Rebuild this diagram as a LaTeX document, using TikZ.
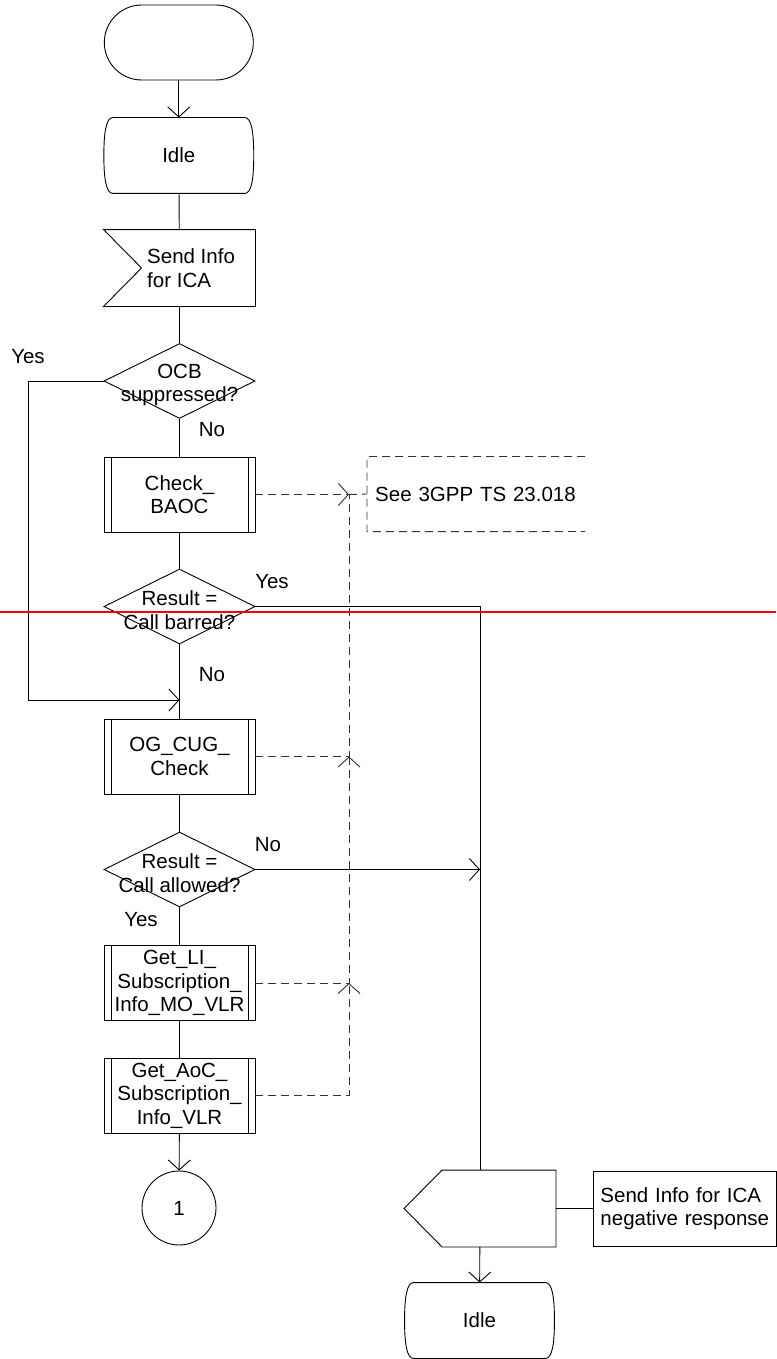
\documentclass[tikz,border=0pt]{standalone}
\usepackage{fontspec}
\setmainfont{Liberation Sans}
\usepackage{tikz}
\usetikzlibrary{arrows.meta}
\usetikzlibrary{shapes.geometric}
\usetikzlibrary{shapes.misc}

\tikzset{
	base/.style={draw, line width=0.9pt, font=\fontsize{20.5}{23.5}\selectfont, align=center, inner sep=0pt},
	terminal/.style={base, rounded rectangle, minimum width=149pt, minimum height=75pt},
	statebox/.style={base, draw=none, minimum width=149pt, minimum height=75pt},
	sigbox/.style={base, draw=none, minimum width=151pt, minimum height=76pt},
	decision/.style={base, diamond, aspect=2, minimum width=151pt, minimum height=75pt},
	procbox/.style={base, rectangle, minimum width=151pt, minimum height=75pt,
		path picture={\draw[line width=0.9pt] ([xshift=7pt]path picture bounding box.north west) -- ([xshift=7pt]path picture bounding box.south west)
			([xshift=-7pt]path picture bounding box.north east) -- ([xshift=-7pt]path picture bounding box.south east);}},
	connector/.style={base, circle, minimum size=74pt},
	txt/.style={font=\fontsize{20.5}{23.5}\selectfont, align=center, inner sep=0pt},
	flow/.style={line width=0.9pt},
	ref/.style={line width=0.9pt, draw=black!80, dash pattern=on 8pt off 5pt}
}

\newcommand{\stateoutline}[1]{\draw[flow] ([xshift=9pt]#1.north west) -- ([xshift=-9pt]#1.north east)
	.. controls +(7,0) and +(0,-22) .. (#1.east)
	.. controls +(0,22) and +(7,0) .. ([xshift=-9pt]#1.south east)
	-- ([xshift=9pt]#1.south west)
	.. controls +(-7,0) and +(0,22) .. (#1.west)
	.. controls +(0,-22) and +(-7,0) .. ([xshift=9pt]#1.north west) -- cycle;}

\begin{document}
\begin{tikzpicture}[x=1pt, y=-1pt, >={Straight Barb[length=10pt,width=22pt]}]
	\useasboundingbox (0,0) rectangle (776,1359);

	\node[terminal] (start) at (178.8,42.5) {};
	\node[statebox] (idle1) at (178.8,155.5) {Idle};
	\stateoutline{idle1}
	\node[sigbox] (recv) at (179.5,268) {};
	\draw[flow] (recv.north west) -- (recv.north east) -- (recv.south east) -- (recv.south west)
		-- ([xshift=38pt]recv.west) -- cycle;
	\node[txt, anchor=west, align=left] (recvtxt) at (147,268) {Send Info\\for ICA};
	\node[decision] (ocb) at (179.5,381) {};
	\node[txt] (ocbtxt) at (179.5,385) {OCB\\suppressed?};
	\node[procbox] (baoc) at (179.5,494.5) {Check\_\\BAOC};
	\node[decision] (barred) at (179.5,606.5) {};
	\node[txt] (barredtxt) at (179.5,610) {Result =\\Call barred?};
	\node[procbox] (cug) at (179.5,756.5) {OG\_CUG\_\\Check};
	\node[decision] (allowed) at (179.5,869.5) {};
	\node[txt] (allowedtxt) at (179.5,873) {Result =\\Call allowed?};
	\node[procbox] (getli) at (179.5,983) {Get\_LI\_\\Subscription\_\\Info\_MO\_VLR};
	\node[procbox] (getaoc) at (179.5,1095.5) {Get\_AoC\_\\Subscription\_\\Info\_VLR};
	\node[connector] (con1) at (179,1208) {1};

	\node[sigbox] (negout) at (480,1208.5) {};
	\draw[flow] (negout.west) -- ([xshift=38pt]negout.north west) -- (negout.north east)
		-- (negout.south east) -- ([xshift=38pt]negout.south west) -- cycle;
	\node[base, anchor=west, minimum width=183pt, minimum height=75pt, text width=169pt, align=left, inner xsep=7pt] (negtxt) at (593,1208.5) {Send Info for ICA\\negative response};
	\node[statebox] (idle2) at (479.5,1320.5) {Idle};
	\stateoutline{idle2}

	\node[txt, anchor=west, text width=202pt, align=left, inner xsep=8pt, minimum height=75pt] (seeref) at (367,494) {See 3GPP TS 23.018};
	\draw[ref] (585,456.5) -| (seeref.south west) -- (585,531.5);

	\node[txt] (yes1) at (28,357) {Yes};
	\node[txt] (no1) at (212,430) {No};
	\node[txt] (yes2) at (272,582) {Yes};
	\node[txt] (no2) at (212,675) {No};
	\node[txt] (no3) at (268,845) {No};
	\node[txt] (yes3) at (141,920) {Yes};

	\coordinate (join1) at (179.5,700);
	\coordinate (rx) at (negout.north |- allowed.east);
	\coordinate (j1) at (349,494.5);
	\coordinate (j2) at (349,756.5);
	\coordinate (j3) at (349,983);

	\draw[flow,->] (start) -- (idle1);
	\draw[flow] (idle1) -- (recv);
	\draw[flow] (recv) -- (ocb);
	\draw[flow] (ocb) -- (baoc);
	\draw[flow] (baoc) -- (barred);
	\draw[flow] (barred.south) -- (cug.north);
	\draw[flow,->] (ocb.west) -- ++(-75,0) |- (join1);
	\draw[flow] (cug) -- (allowed);
	\draw[flow] (allowed) -- (getli);
	\draw[flow] (getli) -- (getaoc);
	\draw[flow,->] (getaoc) -- (con1);
	\draw[flow] (barred.east) -| (negout.north);
	\draw[flow,->] (allowed.east) -- (rx);
	\draw[flow,->] (negout) -- (idle2);
	\draw[flow] (negout.east) -- (negtxt.west);

	\draw[ref,->] (baoc.east) -- (j1);
	\draw[ref] (j1) -- (seeref.west);
	\draw[ref] (cug.east) -- (j2) -- (j1);
	\draw[ref,->] (getli.east) -| (j2);
	\draw[ref,->] (getaoc.east) -| (j3);

	\draw[red, line width=2pt] (0,611.5) -- (776,611.5);
\end{tikzpicture}
\end{document}
